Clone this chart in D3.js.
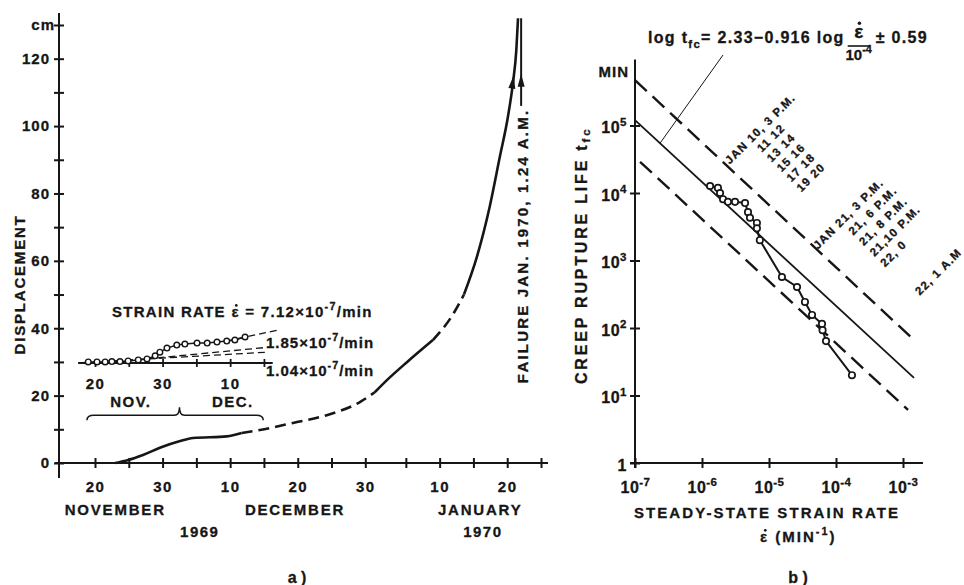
<!DOCTYPE html>
<html>
<head>
<meta charset="utf-8">
<title>Creep displacement and rupture life</title>
<script src="https://cdn.jsdelivr.net/npm/d3@7/dist/d3.min.js"></script>
<style>
  body { margin: 0; background: #fff; }
  svg text { font-family: "Liberation Sans", Arial, sans-serif; font-weight: bold; fill: #161616;
             stroke: #161616; stroke-width: 0.3px; }
</style>
</head>
<body>
<svg id="chart" width="964" height="585"></svg>
<script>
// ---- values ----

// a) displacement in cm against date: [year, month, day(.fraction), cm]
// split where the original switches between solid and dashed
const dispSolid1 = [[1969,11,23.0,0],[1969,11,24.9,0.9],[1969,11,27.1,2.4],[1969,11,29.6,4.5],
                    [1969,12,2.6,6.5],[1969,12,4.5,7.4],[1969,12,9.5,7.9],[1969,12,11.7,8.9]];
const dispDash1 = [[1969,12,11.7,8.9],[1969,12,14.4,9.8],[1969,12,19.3,11.9],[1969,12,24.3,14.2],
                   [1969,12,29.2,18.1],[1969,12,31.4,21.0]];
const dispSolid2 = [[1969,12,31.4,21.0],[1970,1,2.2,24.6],[1970,1,5.2,30.0],[1970,1,9.0,36.5]];
const dispDash2 = [[1970,1,9.0,36.5],[1970,1,12.0,44.2],[1970,1,13.6,50.0]];
const dispSolid3 = [[1970,1,13.6,50.0],[1970,1,15.5,61.1],[1970,1,17.4,76.0],[1970,1,18.9,90.8],
                    [1970,1,20.1,102.7],[1970,1,20.85,112.8],[1970,1,21.35,122.6],[1970,1,21.6,132]];
const curveArrowAt = [1970,1,20.95,115];
const failureTime = [1970,1,22.06];          // Jan 22, 1.24 A.M.

// inset: early strain record and the three fitted rates
const insetBase = 29.7;
const insetPoints = [[1969,11,19.0,30.0],[1969,11,20.3,30.0],[1969,11,21.5,30.0],[1969,11,22.5,30.1],
                     [1969,11,23.7,30.1],[1969,11,24.9,30.3],[1969,11,26.4,30.6],[1969,11,27.7,30.9],
                     [1969,11,28.9,31.8],[1969,11,29.6,32.9],[1969,11,30.65,34.1],[1969,12,2.1,35.0],
                     [1969,12,3.3,35.3],[1969,12,5.1,35.6],[1969,12,6.6,35.6],[1969,12,8.05,35.9],
                     [1969,12,9.5,36.2],[1969,12,10.7,36.5],[1969,12,12.2,37.4]];
const rate104 = [[1969,11,18.1,29.8],[1969,12,15.6,32.9]];
const rate185 = [[1969,11,26.0,30.6],[1969,12,15.9,34.4]];
const rate712 = [[1969,12,9.5,36.2],[1969,12,17.4,39.6]];
const rateValues = ["7.12", "1.85", "1.04"];

const yTicksA = [0,10,20,30,40,50,60,70,80,90,100,110,120,130];
const yLabelsA = {0:"0", 20:"20", 40:"40", 60:"60", 80:"80", 100:"100", 120:"120"};
const monthLabels = [["NOVEMBER",1969,11,23.0],["DECEMBER",1969,12,19.6],["JANUARY",1970,1,16.0]];
const yearLabels = [["1969",1969,12,5.5],["1970",1970,1,16.4]];

// b) creep rupture life (min) against steady-state strain rate (1/min)
const strainRate = [1.32e-6,1.73e-6,1.86e-6,2.06e-6,2.44e-6,3.11e-6,4.39e-6,4.86e-6,5.2e-6,6.6e-6,
                    6.6e-6,7.3e-6,1.56e-5,2.62e-5,3.44e-5,4.39e-5,6.18e-5,6.3e-5,7.1e-5,1.73e-4];
const ruptureLife = [1.27e4,1.19e4,1.0e4,8.1e3,7.4e3,7.4e3,7.1e3,5.2e3,4.3e3,3.6e3,
                     3.0e3,2.0e3,570,405,243,156,115,93,64,20];
const fitMean  = [[1e-7,1.2e5],[1.46e-3,18.2]];
const fitUpper = [[1e-7,4.7e5],[1.36e-3,71]];
const fitLower = [[1.19e-7,2.9e4],[1.19e-3,6.1]];
const xTicksB = [1e-7,1e-6,1e-5,1e-4,1e-3];
const xExpB = ["-7","-6","-5","-4","-3"];
const yTicksB = [1,10,100,1e3,1e4,1e5];
const yExpB = ["","1","2","3","4","5"];
const noteJan10 = ["JAN 10, 3 P.M.","11 12","13 14","15 16","17 18","19 20"];
const noteJan21 = ["JAN 21, 3 P.M.","21, 6 P.M.","21, 8 P.M.","21,10 P.M.","22, 0"];
const noteJan22 = ["22, 1 A.M"];

// ---- helpers ----
const INK = "#161616";
const EPS = "\u03B5";
const day = (y, m, d) => {
  const whole = Math.floor(d);
  return new Date(y, m - 1, whole, 0, Math.round((d - whole) * 1440));
};
const pt = r => ({date: day(r[0], r[1], r[2]), v: r[3]});

function arrowHead(g, tip, angle) {
  // filled arrowhead, tip at [x,y], pointing along angle (radians)
  const len = 13, half = 3.5;
  const bx = tip[0] - len * Math.cos(angle), by = tip[1] - len * Math.sin(angle);
  const nx = -Math.sin(angle) * half, ny = Math.cos(angle) * half;
  g.append("path")
    .attr("d", `M${tip[0]},${tip[1]}L${bx + nx},${by + ny}L${bx - nx},${by - ny}Z`)
    .attr("fill", INK);
}

function richText(sel, parts, size) {
  // parts: [text, "sup" | "sub" | null]
  let shift = 0;
  parts.forEach(([t, kind]) => {
    const target = kind === "sup" ? -0.45 * size : kind === "sub" ? 0.3 * size : 0;
    sel.append("tspan")
      .attr("dy", target - shift)
      .attr("font-size", kind ? size * 0.72 : size)
      .text(t);
    shift = target;
  });
  return sel;
}

function dotOverEps(g, textSel, size) {
  // put the rate dot over every epsilon in a laid-out text element
  const node = textSel.node();
  const str = node.textContent;
  for (let i = 0; i < str.length; i++) {
    if (str[i] !== EPS) continue;
    const start = node.getStartPositionOfChar(i);
    const ext = node.getExtentOfChar(i);
    g.append("circle")
      .attr("cx", ext.x + ext.width * 0.58).attr("cy", start.y - size * 0.78)
      .attr("r", Math.max(1.2, size * 0.09)).attr("fill", INK);
  }
}

const svg = d3.select("#chart");
svg.append("rect").attr("width", 964).attr("height", 585).attr("fill", "#fff");

// ================= panel a =================
const gA = svg.append("g");
const xA = d3.scaleTime().domain([day(1969,11,20), day(1970,1,25)]).range([95, 541]);
const yA = d3.scaleLinear().domain([0, 130]).range([463, 25]);
const axisLeftA = 59;

// x axis
const xTicksA = d3.timeDay.range(day(1969,11,20), day(1970,1,26)).filter(d => d.getDate() % 5 === 0);
const axA = gA.append("g").attr("transform", `translate(0,${yA(0)})`)
  .call(d3.axisBottom(xA).tickValues(xTicksA).tickSizeInner(5).tickSizeOuter(0).tickPadding(13)
    .tickFormat(d => d.getDate() % 10 === 0 ? d.getDate() : ""));
axA.select(".domain").remove();
axA.selectAll(".tick line").attr("y1", -5).attr("stroke", INK).attr("stroke-width", 2);
axA.selectAll(".tick text").attr("font-size", 15).attr("letter-spacing", 1.5);
axA.append("line").attr("x1", axisLeftA - 4).attr("x2", 548)
  .attr("stroke", INK).attr("stroke-width", 2);

gA.selectAll(".month").data(monthLabels).join("text")
  .attr("x", d => xA(day(d[1], d[2], d[3]))).attr("y", yA(0) + 52)
  .attr("text-anchor", "middle").attr("font-size", 15).attr("letter-spacing", 1.8)
  .text(d => d[0]);
gA.selectAll(".year").data(yearLabels).join("text")
  .attr("x", d => xA(day(d[1], d[2], d[3]))).attr("y", yA(0) + 74)
  .attr("text-anchor", "middle").attr("font-size", 15).attr("letter-spacing", 1.5)
  .text(d => d[0]);

// y axis
const ayA = gA.append("g").attr("transform", `translate(${axisLeftA},0)`)
  .call(d3.axisLeft(yA).tickValues(yTicksA).tickSizeInner(5).tickSizeOuter(0).tickPadding(4)
    .tickFormat(v => yLabelsA[v] ?? (v === 130 ? "cm" : "")));
ayA.select(".domain").remove();
ayA.selectAll(".tick line").attr("x1", 5).attr("stroke", INK).attr("stroke-width", 2);
ayA.selectAll(".tick text").attr("font-size", 15).attr("letter-spacing", 1)
  .attr("dx", v => v === 130 ? 5 : 0);
ayA.append("line").attr("y1", 478).attr("y2", 13).attr("stroke", INK).attr("stroke-width", 2);

gA.append("text")
  .attr("transform", `translate(19,${yA(53)}) rotate(-90)`)
  .attr("text-anchor", "middle").attr("dominant-baseline", "central")
  .attr("font-size", 15).attr("letter-spacing", 1.8)
  .text("DISPLACEMENT");

// main displacement curve
const lineA = d3.line().x(d => xA(d.date)).y(d => yA(d.v)).curve(d3.curveMonotoneX);
[[dispSolid1, null], [dispDash1, "11,6"], [dispSolid2, null], [dispDash2, "11,6"], [dispSolid3, null]]
  .forEach(([rows, dash]) => {
    gA.append("path").attr("d", lineA(rows.map(pt)))
      .attr("fill", "none").attr("stroke", INK).attr("stroke-width", 2.6)
      .attr("stroke-dasharray", dash);
  });
{
  const tip = pt(curveArrowAt), prev = pt(dispSolid3[4]);
  const ang = Math.atan2(yA(tip.v) - yA(prev.v), xA(tip.date) - xA(prev.date));
  arrowHead(gA, [xA(tip.date), yA(tip.v)], ang);
}

// failure marker
const failX = xA(day(...failureTime));
gA.append("line").attr("x1", failX).attr("x2", failX).attr("y1", yA(106)).attr("y2", yA(132))
  .attr("stroke", INK).attr("stroke-width", 2);
arrowHead(gA, [failX, yA(115.5)], -Math.PI / 2);
gA.append("text")
  .attr("transform", `translate(${failX + 1},${yA(23.7)}) rotate(-90)`)
  .attr("dominant-baseline", "central").attr("font-size", 15).attr("letter-spacing", 2.2)
  .text("FAILURE JAN. 1970, 1.24 A.M.");

// ---- inset ----
const insetY = yA(insetBase);
const insetTicks = xTicksA.filter(d => d <= day(1969,12,15));
const axI = gA.append("g").attr("transform", `translate(0,${insetY})`)
  .call(d3.axisBottom(xA).tickValues(insetTicks).tickSizeInner(4).tickSizeOuter(0).tickPadding(11)
    .tickFormat(d => d.getDate() % 10 === 0 ? d.getDate() : ""));
axI.select(".domain").remove();
axI.selectAll(".tick line").attr("y1", -4).attr("stroke", INK).attr("stroke-width", 1.8);
axI.selectAll(".tick text").attr("font-size", 15).attr("letter-spacing", 1.5);
axI.append("line").attr("x1", xA(day(1969,11,17.5))).attr("x2", xA(day(1969,12,16.3)))
  .attr("stroke", INK).attr("stroke-width", 2);

[["NOV.", day(1969,11,25.3)], ["DEC.", day(1969,12,10.4)]].forEach(([t, d]) => {
  gA.append("text").attr("x", xA(d)).attr("y", yA(18.1)).attr("dy", "0.36em")
    .attr("text-anchor", "middle").attr("font-size", 15).attr("letter-spacing", 1.5).text(t);
});

// brace under NOV. / DEC.
{
  const x0 = xA(day(1969,11,18.8)), x1 = xA(day(1969,12,14.9)), xm = xA(day(1969,12,2.5));
  const yb = yA(14.2);
  gA.append("path")
    .attr("d", `M${x0},${yb + 5}Q${x0},${yb} ${x0 + 7},${yb}L${xm - 5},${yb}Q${xm},${yb} ${xm},${yb - 8}` +
               `Q${xm},${yb} ${xm + 5},${yb}L${x1 - 7},${yb}Q${x1},${yb} ${x1},${yb + 5}`)
    .attr("fill", "none").attr("stroke", INK).attr("stroke-width", 1.5);
}

// fitted rates
[rate104, rate185, rate712].forEach(rows => {
  const p = rows.map(pt);
  gA.append("line")
    .attr("x1", xA(p[0].date)).attr("y1", yA(p[0].v))
    .attr("x2", xA(p[1].date)).attr("y2", yA(p[1].v))
    .attr("stroke", INK).attr("stroke-width", 1.3).attr("stroke-dasharray", "7,4");
});

const insetData = insetPoints.map(pt);
gA.append("path").attr("d", d3.line().x(d => xA(d.date)).y(d => yA(d.v))(insetData))
  .attr("fill", "none").attr("stroke", INK).attr("stroke-width", 1.5);
gA.selectAll(".ipt").data(insetData).join("circle")
  .attr("cx", d => xA(d.date)).attr("cy", d => yA(d.v)).attr("r", 2.8)
  .attr("fill", "#fff").attr("stroke", INK).attr("stroke-width", 1.4);

// rate labels
{
  const t1 = gA.append("text").attr("x", xA(day(1969,11,22.5))).attr("y", yA(43.3)).attr("dy", "0.36em")
    .attr("letter-spacing", 1.3);
  richText(t1, [["STRAIN RATE " + EPS + " = " + rateValues[0] + "\u00D710", null],
                ["-7", "sup"], ["/min", null]], 15);
  dotOverEps(gA, t1, 15);
  const t2 = gA.append("text").attr("x", xA(day(1969,12,15.3))).attr("y", yA(34.1)).attr("dy", "0.36em")
    .attr("letter-spacing", 1);
  richText(t2, [[rateValues[1] + "\u00D710", null], ["-7", "sup"], ["/min", null]], 15);
  const t3 = gA.append("text").attr("x", xA(day(1969,12,15.3))).attr("y", yA(25.8)).attr("dy", "0.36em")
    .attr("letter-spacing", 1);
  richText(t3, [[rateValues[2] + "\u00D710", null], ["-7", "sup"], ["/min", null]], 15);
}

svg.append("text").attr("x", 297).attr("y", 583).attr("text-anchor", "middle")
  .attr("font-size", 16).text("a )");

// ================= panel b =================
const gB = svg.append("g");
const xB = d3.scaleLog().domain([1e-7, 1e-3]).range([635, 903]);
const yB = d3.scaleLog().domain([1, 1e5]).range([463, 125.5]);

const axB = gB.append("g").attr("transform", `translate(0,${yB(1)})`)
  .call(d3.axisBottom(xB).tickValues(xTicksB).tickSizeInner(5).tickSizeOuter(0).tickFormat(""));
axB.select(".domain").remove();
axB.selectAll(".tick line").attr("y1", -5).attr("stroke", INK).attr("stroke-width", 2);
axB.selectAll(".tick").each(function (d, i) {
  const t = d3.select(this).append("text").attr("y", 30).attr("text-anchor", "middle")
    .attr("letter-spacing", 0.5);
  richText(t, [["10", null], [xExpB[i], "sup"]], 16);
});
axB.append("line").attr("x1", 630).attr("x2", 923).attr("stroke", INK).attr("stroke-width", 2);

const ayB = gB.append("g").attr("transform", `translate(${xB(1e-7)},0)`)
  .call(d3.axisLeft(yB).tickValues(yTicksB).tickSizeInner(5).tickSizeOuter(0).tickFormat(""));
ayB.select(".domain").remove();
ayB.selectAll(".tick line").attr("x1", 5).attr("stroke", INK).attr("stroke-width", 2);
ayB.selectAll(".tick").each(function (d, i) {
  const t = d3.select(this).append("text").attr("x", -8).attr("y", 7).attr("text-anchor", "end")
    .attr("letter-spacing", 0.5);
  if (yExpB[i]) richText(t, [["10", null], [yExpB[i], "sup"]], 16);
  else richText(t, [["1", null]], 16);
});
ayB.append("line").attr("y1", 468).attr("y2", yB(9.5e5)).attr("stroke", INK).attr("stroke-width", 2);

gB.append("text").attr("x", xB(1e-7) - 6).attr("y", 77).attr("text-anchor", "end")
  .attr("font-size", 15).attr("letter-spacing", 1).text("MIN");

{
  const t = gB.append("text").attr("transform", `translate(581,384) rotate(-90)`)
    .attr("dominant-baseline", "central").attr("letter-spacing", 2.8);
  richText(t, [["CREEP RUPTURE LIFE   t", null], ["fc", "sub"]], 16);
}
gB.append("text").attr("x", 767).attr("y", 518).attr("text-anchor", "middle")
  .attr("font-size", 15).attr("letter-spacing", 2.1).text("STEADY-STATE STRAIN RATE");
{
  const t = gB.append("text").attr("x", 760).attr("y", 542).attr("letter-spacing", 2);
  richText(t, [[EPS + "  (MIN", null], ["-1", "sup"], [")", null]], 15);
  dotOverEps(gB, t, 15);
}

// fitted band
const lineB = d3.line().x(d => xB(d[0])).y(d => yB(d[1]));
[[fitUpper, "16,8"], [fitMean, null], [fitLower, "16,8"]].forEach(([rows, dash]) => {
  gB.append("path").attr("d", lineB(rows)).attr("fill", "none").attr("stroke", INK)
    .attr("stroke-width", dash ? 2.4 : 1.8).attr("stroke-dasharray", dash);
});

// observations
const obs = strainRate.map((r, i) => [r, ruptureLife[i]]);
gB.append("path").attr("d", lineB(obs)).attr("fill", "none").attr("stroke", INK).attr("stroke-width", 2);
gB.selectAll(".obs").data(obs).join("circle")
  .attr("cx", d => xB(d[0])).attr("cy", d => yB(d[1])).attr("r", 3.2)
  .attr("fill", "#fff").attr("stroke", INK).attr("stroke-width", 1.7);

// time notes along the points
[[noteJan10, [2.36e-6, 2.88e4], 31, 14], [noteJan21, [4.87e-5, 1585], 35, 15], [noteJan22, [1.62e-3, 330], 0, 0]]
  .forEach(([lines, at, indent, step]) => {
    const g = gB.append("g").attr("transform", `translate(${xB(at[0])},${yB(at[1])}) rotate(-45)`);
    g.selectAll("text").data(lines).join("text")
      .attr("x", (d, i) => i ? indent : 0).attr("y", (d, i) => i * step)
      .attr("dominant-baseline", "central").attr("font-size", 11.5).attr("letter-spacing", 1.2)
      .text(d => d);
  });

// regression formula with leader
{
  const f = gB.append("text").attr("x", 648).attr("y", 43).attr("letter-spacing", 1.3);
  richText(f, [["log t", null], ["fc", "sub"], ["= 2.33\u22120.916 log", null]], 16);
  const end = 648 + f.node().getComputedTextLength();
  const fx = end + 14;
  const num = gB.append("text").attr("x", fx).attr("y", 38).attr("text-anchor", "middle").attr("font-size", 19)
    .text(EPS);
  dotOverEps(gB, num, 19);
  gB.append("line").attr("x1", fx - 11).attr("x2", fx + 11).attr("y1", 46).attr("y2", 46)
    .attr("stroke", INK).attr("stroke-width", 1.6);
  const den = gB.append("text").attr("x", fx).attr("y", 60).attr("text-anchor", "middle");
  richText(den, [["10", null], ["-4", "sup"]], 15);
  gB.append("text").attr("x", fx + 17).attr("y", 43).attr("font-size", 16).attr("letter-spacing", 1.3)
    .text("\u00B1 0.59");
  gB.append("line").attr("x1", 723).attr("y1", 55)
    .attr("x2", xB(2.36e-7)).attr("y2", yB(5.45e4))
    .attr("stroke", INK).attr("stroke-width", 1);
}

svg.append("text").attr("x", 798).attr("y", 583).attr("text-anchor", "middle")
  .attr("font-size", 16).text("b )");
</script>
</body>
</html>
